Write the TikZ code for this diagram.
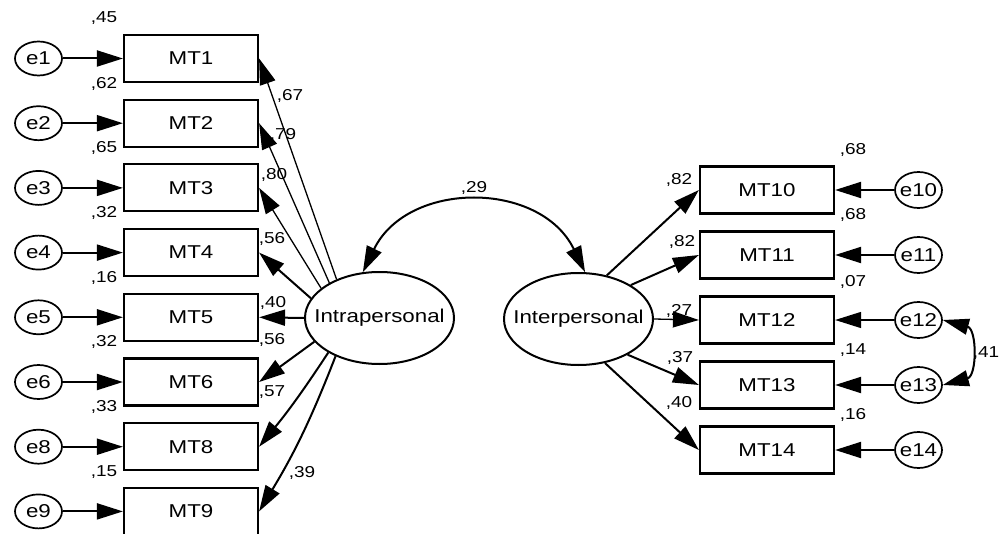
\documentclass[tikz,border=0pt]{standalone}
\usepackage{fontspec}
\setmainfont{Liberation Sans}[FakeStretch=1.2]
\usetikzlibrary{arrows.meta,shapes.geometric}
\newcommand\mylab{\fontsize{9.3}{10}\selectfont}
\newcommand\mycoef{\fontsize{7.9}{8}\selectfont}
\tikzset{
  obs/.style={draw, line width=1.1pt, minimum width=67pt, minimum height=23.5pt, inner sep=0pt, font=\mylab},
  err/.style={draw, ellipse, line width=0.85pt, minimum width=23.5pt, minimum height=17pt, inner sep=0pt,
              label={[font=\mylab, inner sep=0pt]center:#1}},
  errr/.style={err=#1, minimum height=18pt},
  lat/.style={draw, ellipse, line width=1pt, minimum width=74.5pt, minimum height=46pt, inner sep=0pt,
              label={[font=\mylab, inner sep=0pt]center:#1}},
  coef/.style={font=\mycoef, inner sep=0pt},
  arr/.style={-{Triangle[length=13pt,width=8pt]}, line width=1pt},
  thinarr/.style={-{Triangle[length=13pt,width=8pt]}, line width=0.65pt},
  cov/.style={{Triangle[length=13pt,width=8pt]}-{Triangle[length=13pt,width=8pt]}, line width=1pt},
}
\begin{document}
\begin{tikzpicture}[x=0.5pt,y=0.5pt]
\fill[white] (0,0) rectangle (1000,-534);
\useasboundingbox (0,0) rectangle (1000,-534);

% left side
\node[err=e1] (e1) at (38.5,-58.5) {};
\node[err=e2] (e2) at (38.5,-123.2) {};
\node[err=e3] (e3) at (38.5,-187.9) {};
\node[err=e4] (e4) at (38.5,-252.6) {};
\node[err=e5] (e5) at (38.5,-317.3) {};
\node[err=e6] (e6) at (38.5,-382) {};
\node[err=e8] (e8) at (38.5,-446.7) {};
\node[err=e9] (e9) at (38.5,-511.4) {};

\node[obs] (MT1) at (191,-58.5) {MT1};
\node[obs] (MT2) at (191,-123.2) {MT2};
\node[obs] (MT3) at (191,-187.9) {MT3};
\node[obs] (MT4) at (191,-252.6) {MT4};
\node[obs] (MT5) at (191,-317.3) {MT5};
\node[obs] (MT6) at (191,-382) {MT6};
\node[obs] (MT8) at (191,-446.7) {MT8};
\node[obs] (MT9) at (191,-511.4) {MT9};

\foreach \i in {1,2,3,4,5,6,8,9}{\draw[arr] (e\i) -- (MT\i);}

\node[lat=Intrapersonal] (intra) at (379.5,-318) {};
\node[lat=Interpersonal] (inter) at (578.5,-319) {};

\draw[thinarr] (intra.138) -- (MT1.east);
\draw[thinarr] (intra.145) -- (MT2.east);
\draw[thinarr] (intra.153) -- (MT3.east);
\draw[arr] (intra.164) -- (MT4.east);
\draw[arr] (intra.180) -- (MT5.east);
\draw[arr] (intra.200) -- (MT6.east);
\draw[arr] (intra.214) to[bend left=3] (MT8.east);
\draw[arr] (intra.221) to[bend left=5] (MT9.east);

% right side
\node[obs] (MT10) at (767,-190) {MT10};
\node[obs] (MT11) at (767,-255) {MT11};
\node[obs] (MT12) at (767,-320) {MT12};
\node[obs] (MT13) at (767,-385) {MT13};
\node[obs] (MT14) at (767,-450) {MT14};

\node[errr=e10] (e10) at (918.5,-190) {};
\node[errr=e11] (e11) at (918.5,-255) {};
\node[errr=e12] (e12) at (918.5,-320) {};
\node[errr=e13] (e13) at (918.5,-385) {};
\node[errr=e14] (e14) at (918.5,-450) {};

\draw[arr] (e10) -- (MT10);
\draw[arr] (e11) -- (MT11);
\draw[thinarr] (e12) -- (MT12);
\draw[arr] (e13) -- (MT13);
\draw[arr] (e14) -- (MT14);

\draw[arr] (inter.57) -- (MT10.west);
\draw[arr] (inter.33) -- (MT11.west);
\draw[thinarr] (inter.0) -- (MT12.west);
\draw[arr] (inter.-36) -- (MT13.west);
\draw[arr] (inter.-59) -- (MT14.west);

% covariances
\draw[cov] (intra.110) to[out=64,in=116,looseness=1.18] (inter.82);
\draw[cov] (e12.east) to[out=-15,in=15,looseness=1.4] (e13.east);

% coefficient labels, left
\node[coef] (r1) at (104,-18.5) {,45};
\node[coef] (r2) at (104,-83.5) {,62};
\node[coef] (r3) at (104,-148) {,65};
\node[coef] (r4) at (104,-213) {,32};
\node[coef] (r5) at (104,-278) {,16};
\node[coef] (r6) at (104,-342) {,32};
\node[coef] (r8) at (104,-407) {,33};
\node[coef] (r9) at (104,-472) {,15};

\node[coef] (l1) at (290,-96) {,67};
\node[coef] (l2) at (283,-135) {,79};
\node[coef] (l3) at (274,-175) {,80};
\node[coef] (l4) at (272,-239) {,56};
\node[coef] (l5) at (273,-303) {,40};
\node[coef] (l6) at (272,-340) {,56};
\node[coef] (l8) at (272,-392) {,57};
\node[coef] (l9) at (302,-473) {,39};

% coefficient labels, right
\node[coef] (r10) at (853,-150) {,68};
\node[coef] (r11) at (853,-215) {,68};
\node[coef] (r12) at (853,-282) {,07};
\node[coef] (r13) at (853,-350) {,14};
\node[coef] (r14) at (853,-415) {,16};

\node[coef] (l10) at (679,-180) {,82};
\node[coef] (l11) at (682,-242) {,82};
\node[coef] (l12) at (679,-311) {,27};
\node[coef] (l13) at (680,-358) {,37};
\node[coef] (l14) at (679,-403) {,40};

\node[coef] (c1) at (474,-188) {,29};
\node[coef] (c2) at (986,-353) {,41};
\end{tikzpicture}
\end{document}
